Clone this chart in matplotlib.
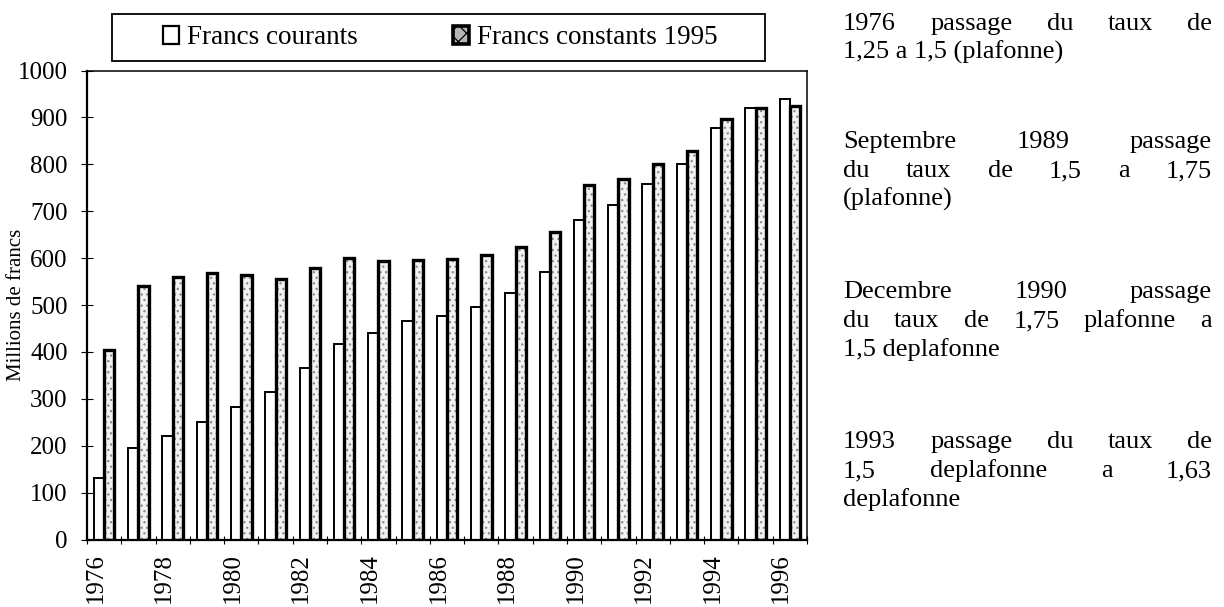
import matplotlib
matplotlib.use("Agg")
import numpy as np
import matplotlib.pyplot as plt
from matplotlib.patches import Patch, Rectangle

# values (millions de francs)
years = list(range(1976, 1997))
courants = [132, 196, 220, 250, 282, 314, 365, 416, 440, 465, 477,
            495, 525, 571, 681, 713, 759, 801, 877, 920, 940]
constants = [404, 540, 559, 569, 565, 555, 578, 601, 594, 596, 599,
             606, 624, 656, 755, 768, 801, 828, 896, 920, 924]
year_labels = [str(y) for y in years[::2]]
series_names = ["Francs courants", "Francs constants 1995"]
y_label = "Millions de francs"

notes = [
    ["1976  passage du taux de", "1,25 a 1,5 (plafonne)"],
    ["Septembre 1989  passage", "du taux de 1,5 a 1,75", "(plafonne)"],
    ["Decembre 1990  passage", "du taux de 1,75 plafonne a", "1,5 deplafonne"],
    ["1993  passage du taux de", "1,5 deplafonne a 1,63", "deplafonne"],
]

W, H = 1224, 607
serif = ["Liberation Serif", "DejaVu Serif"]
fs = 18
fs_notes = 19

plt.rcParams["font.family"] = serif
plt.rcParams["hatch.linewidth"] = 0.9

fig = plt.figure(figsize=(W / 100, H / 100), dpi=100)
ax = fig.add_axes([87 / W, 1 - 539.5 / H, (807 - 87) / W, (539.5 - 70.5) / H])

x = np.arange(len(years))
bw = 0.3
ax.bar(x - bw / 2, courants, bw, color="white", edgecolor="black", linewidth=1.4, zorder=2)
ax.bar(x + bw / 2, constants, bw, color="#f2f2f2", edgecolor="#8a8a8a", hatch="...",
       linewidth=0, zorder=2)
ax.bar(x + bw / 2, constants, bw, fill=False, edgecolor="black", linewidth=2.4, zorder=3)

ax.set_xlim(-0.5, len(years) - 0.5)
ax.set_ylim(0, 1000)
ax.set_yticks(np.arange(0, 1001, 100))
ax.tick_params(axis="y", labelsize=fs, direction="inout", length=8, width=0.8, pad=10)

ax.set_xticks(x[::2] - 0.25)
ax.set_xticklabels(year_labels, rotation=90, fontsize=fs)
ax.tick_params(axis="x", length=0, pad=10)
ax.set_xticks(np.arange(-0.5, len(years), 1), minor=True)
ax.tick_params(axis="x", which="minor", direction="inout", length=6, width=0.8)

for side in ["left", "bottom"]:
    ax.spines[side].set_linewidth(1.6)
for side in ["right", "top"]:
    ax.spines[side].set_linewidth(1.1)

fig.text(17 / W, 1 - 305 / H, y_label, rotation=90, fontsize=15,
         ha="center", va="center")

# legend: entries without frame, box drawn separately to match the original spacing
handles = [
    Patch(facecolor="white", edgecolor="black", linewidth=1.6),
    Patch(facecolor="#b5b5b5", edgecolor="black", linewidth=2.6, hatch="xx"),
]
leg = fig.legend(handles, series_names, loc="center left", ncol=2,
                 bbox_to_anchor=(163 / W, 1 - 38 / H),
                 bbox_transform=fig.transFigure, fontsize=19.5, frameon=False,
                 handlelength=0.6, handleheight=0.6, handletextpad=0.3,
                 columnspacing=3.5, borderpad=0, borderaxespad=0)
fig.add_artist(Rectangle((112 / W, 1 - 61 / H), (765 - 112) / W, 47 / H,
                         transform=fig.transFigure, fill=False,
                         edgecolor="black", linewidth=1.3))

# justified note block on the right
fig.canvas.draw()
renderer = fig.canvas.get_renderer()


def text_width(s):
    t = fig.text(0, 0, s, fontsize=fs_notes)
    w = t.get_window_extent(renderer=renderer).width
    t.remove()
    return w


left, right = 843, 1212
first_baselines = [30, 148, 298, 448]
line_step = 29
for block, base in zip(notes, first_baselines):
    for k, line in enumerate(block):
        yb = 1 - (base + k * line_step) / H
        words = line.split()
        if k == len(block) - 1 or len(words) == 1:
            fig.text(left / W, yb, line, fontsize=fs_notes, va="baseline", ha="left")
            continue
        widths = [text_width(w) for w in words]
        gap = (right - left - sum(widths)) / (len(words) - 1)
        xpos = left
        for w, wd in zip(words, widths):
            fig.text(xpos / W, yb, w, fontsize=fs_notes, va="baseline", ha="left")
            xpos += wd + gap

fig.savefig("out.png", dpi=100)
